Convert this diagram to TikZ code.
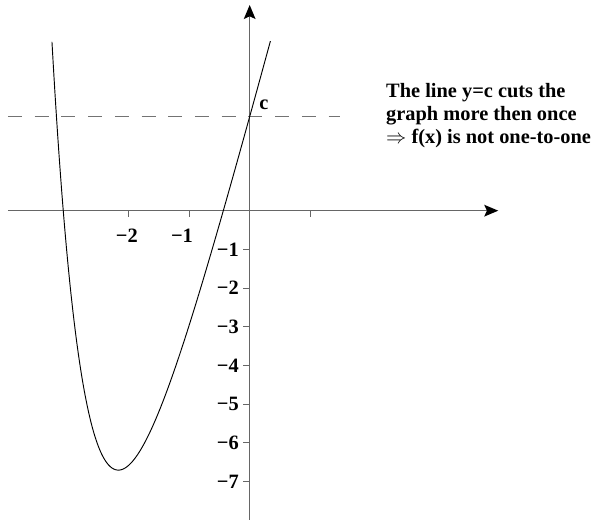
\documentclass[tikz,border=0pt]{standalone}
\usepackage{fontspec}
\setmainfont{Liberation Serif}
\usetikzlibrary{arrows.meta}

\begin{document}
\begin{tikzpicture}[x=1.815cm, y=1.161cm,
    axis/.style={draw=black!60, line width=1.1pt},
    arrow/.style={-{Stealth[length=0.42cm, width=0.35cm, inset=0.08cm, color=black]}},
    tickmark/.style={draw=black!60, line width=0.8pt},
    ticklbl/.style={font=\fontsize{17.4}{17}\selectfont\bfseries, inner sep=0pt},
    level/.style={draw=black!55, line width=1pt, dash pattern=on 12pt off 10.8pt},
    curve/.style={draw=black, line width=0.8pt},
    note/.style={font=\fontsize{17.4}{19.6}\selectfont\bfseries, align=left, inner sep=0pt}
  ]
    \useasboundingbox (-4.127,-7.992) rectangle (5.741,5.444);

    % axes
    \coordinate (xstart) at (-3.995,0);
    \coordinate (xend) at (4.109,0);
    \coordinate (ystart) at (0,-7.992);
    \coordinate (yend) at (0,5.315);
    \draw[axis, arrow] (xstart) -- (xend);
    \draw[axis, arrow] (ystart) -- (yend);

    % ticks and labels
    \draw[tickmark] (-2,0) -- (-2,-0.155);
    \draw[tickmark] (-1,0) -- (-1,-0.155);
    \draw[tickmark] (1,0) -- (1,-0.155);
    \node[ticklbl, anchor=north] (xlblm2) at (-2.03,-0.47) {−2};
    \node[ticklbl, anchor=north] (xlblm1) at (-1.12,-0.47) {−1};
    \draw[tickmark] (0,-1) -- (-0.116,-1);
    \draw[tickmark] (0,-2) -- (-0.116,-2);
    \draw[tickmark] (0,-3) -- (-0.116,-3);
    \draw[tickmark] (0,-4) -- (-0.116,-4);
    \draw[tickmark] (0,-5) -- (-0.116,-5);
    \draw[tickmark] (0,-6) -- (-0.116,-6);
    \draw[tickmark] (0,-7) -- (-0.116,-7);
    \node[ticklbl, anchor=east] (ylblm1) at (-0.177,-1) {−1};
    \node[ticklbl, anchor=east] (ylblm2) at (-0.177,-2) {−2};
    \node[ticklbl, anchor=east] (ylblm3) at (-0.177,-3) {−3};
    \node[ticklbl, anchor=east] (ylblm4) at (-0.177,-4) {−4};
    \node[ticklbl, anchor=east] (ylblm5) at (-0.177,-5) {−5};
    \node[ticklbl, anchor=east] (ylblm6) at (-0.177,-6) {−6};
    \node[ticklbl, anchor=east] (ylblm7) at (-0.177,-7) {−7};

    % the line y=c
    \coordinate (cstart) at (-3.995,2.43);
    \coordinate (cend) at (1.49,2.43);
    \draw[level] (cstart) -- (cend);
    \node[ticklbl] (clbl) at (0.236,2.731) {c};

    % graph of f
    \draw[curve] plot[domain=-3.268:0.343, samples=150, smooth]
      (\x, {0.1132*exp(-1.6*\x)+5.837*\x+2.317});

    \node[note, anchor=north west] (remark) at (2.253,3.287)
      {The line y=c cuts the\\graph more then once\\$\Rightarrow$ f(x) is not one-to-one};
\end{tikzpicture}
\end{document}
